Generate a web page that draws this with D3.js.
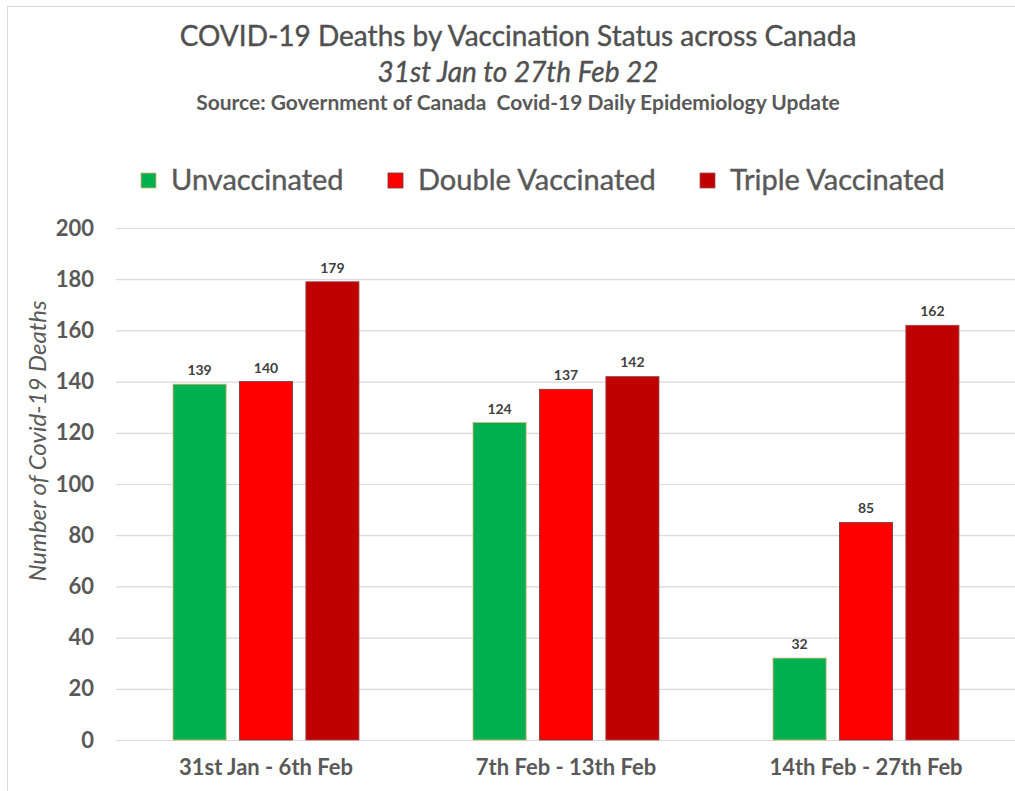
<!DOCTYPE html>
<html>
<head>
<meta charset="utf-8">
<script src="https://cdn.jsdelivr.net/npm/d3@7"></script>
<style>
  body { margin: 0; background: #fff; }
  svg { display: block; font-family: Lato, "Open Sans", sans-serif; }
</style>
</head>
<body>
<div id="chart"></div>
<script>
const periods = ['31st Jan - 6th Feb', '7th Feb - 13th Feb', '14th Feb - 27th Feb']
const series = ['Unvaccinated', 'Double Vaccinated', 'Triple Vaccinated']
const unvaccinated = [139, 124, 32]
const doubleVax = [140, 137, 85]
const tripleVax = [179, 142, 162]
const yTicks = [0, 20, 40, 60, 80, 100, 120, 140, 160, 180, 200]
const colors = ['#00b050', '#ff0000', '#c00000']
const strokes = ['#e0b070', '#6b3a3a', '#9b5050']

const w = 1015
const h = 791
const values = [unvaccinated, doubleVax, tripleVax]

const svg = d3.select('#chart')
    .append('svg')
    .attr('width', w)
    .attr('height', h)

// outer frame
svg.append('rect')
    .attr('x', 7.5).attr('y', 6.5)
    .attr('width', w).attr('height', h)
    .attr('fill', 'none')
    .attr('stroke', '#d9d9d9')

const x0 = d3.scaleBand().domain(periods).range([116, 1016]).padding(0)
const x1 = d3.scaleBand().domain(series).range([57, 243]).paddingInner(0.2).paddingOuter(0)
const y = d3.scaleLinear().domain([0, 200]).range([740, 228])

// gridlines
svg.append('g')
    .selectAll('line')
    .data(yTicks)
    .enter()
    .append('line')
    .attr('x1', 116).attr('x2', w)
    .attr('y1', d => y(d) + 0.5).attr('y2', d => y(d) + 0.5)
    .attr('stroke', '#d9d9d9')
    .attr('stroke-width', 1.2)

// y axis labels
const yAxis = svg.append('g')
    .attr('transform', 'translate(94,0)')
    .call(d3.axisLeft(y).tickValues(yTicks).tickSize(0).tickPadding(0))
yAxis.select('.domain').remove()
yAxis.selectAll('text')
    .attr('font-family', 'Lato, sans-serif')
    .attr('font-size', 22)
    .attr('font-weight', 'bold')
    .attr('fill', '#595959')

svg.append('text')
    .attr('transform', 'translate(46,441) rotate(-90)')
    .attr('text-anchor', 'middle')
    .attr('font-size', 24)
    .attr('font-style', 'italic')
    .attr('fill', '#595959')
    .text('Number of Covid-19 Deaths')

// bars
const groups = svg.append('g')
    .selectAll('g')
    .data(periods)
    .enter()
    .append('g')
    .attr('transform', d => `translate(${x0(d)},0)`)

groups.selectAll('rect')
    .data((d, i) => series.map((s, j) => ({ s, j, v: values[j][i] })))
    .enter()
    .append('rect')
    .attr('x', d => x1(d.s))
    .attr('y', d => y(d.v))
    .attr('width', x1.bandwidth())
    .attr('height', d => y(0) - y(d.v))
    .attr('fill', d => colors[d.j])
    .attr('stroke', d => strokes[d.j])
    .attr('stroke-width', 0.8)

groups.selectAll('text')
    .data((d, i) => series.map((s, j) => ({ s, j, v: values[j][i] })))
    .enter()
    .append('text')
    .attr('x', d => x1(d.s) + x1.bandwidth() / 2)
    .attr('y', d => y(d.v) - 9)
    .attr('text-anchor', 'middle')
    .attr('font-size', 14)
    .attr('font-weight', 'bold')
    .attr('fill', '#404040')
    .text(d => d.v)

// x axis labels
const xAxis = svg.append('g')
    .attr('transform', 'translate(0,759)')
    .call(d3.axisBottom(x0).tickSize(0).tickPadding(0))
xAxis.select('.domain').remove()
xAxis.selectAll('text')
    .attr('font-family', 'Lato, sans-serif')
    .attr('font-size', 22)
    .attr('font-weight', 'bold')
    .attr('fill', '#595959')

// titles
svg.append('text')
    .attr('x', 518).attr('y', 46)
    .attr('text-anchor', 'middle')
    .attr('font-size', 28)
    .attr('fill', '#505050')
    .attr('stroke', '#505050')
    .attr('stroke-width', 0.4)
    .text('COVID-19 Deaths by Vaccination Status across Canada')
svg.append('text')
    .attr('x', 518).attr('y', 82)
    .attr('text-anchor', 'middle')
    .attr('font-size', 28)
    .attr('font-style', 'italic')
    .attr('fill', '#505050')
    .attr('stroke', '#505050')
    .attr('stroke-width', 0.4)
    .text('31st Jan to 27th Feb 22')
svg.append('text')
    .attr('x', 518).attr('y', 110)
    .attr('text-anchor', 'middle')
    .attr('font-size', 21)
    .attr('font-weight', 'bold')
    .attr('fill', '#595959')
    .style('white-space', 'pre')
    .text('Source: Government of Canada  Covid-19 Daily Epidemiology Update')

// legend
const legendX = [141, 388, 700]
const legend = svg.append('g')
    .selectAll('g')
    .data(series)
    .enter()
    .append('g')
    .attr('transform', (d, i) => `translate(${legendX[i]},173)`)
legend.append('rect')
    .attr('width', 15).attr('height', 15)
    .attr('fill', (d, i) => colors[i])
    .attr('stroke', (d, i) => strokes[i])
    .attr('stroke-width', 0.8)
legend.append('text')
    .attr('x', 30).attr('y', 17)
    .attr('font-size', 29)
    .attr('fill', '#595959')
    .attr('stroke', '#595959')
    .attr('stroke-width', 0.4)
    .text(d => d)
</script>
</body>
</html>
